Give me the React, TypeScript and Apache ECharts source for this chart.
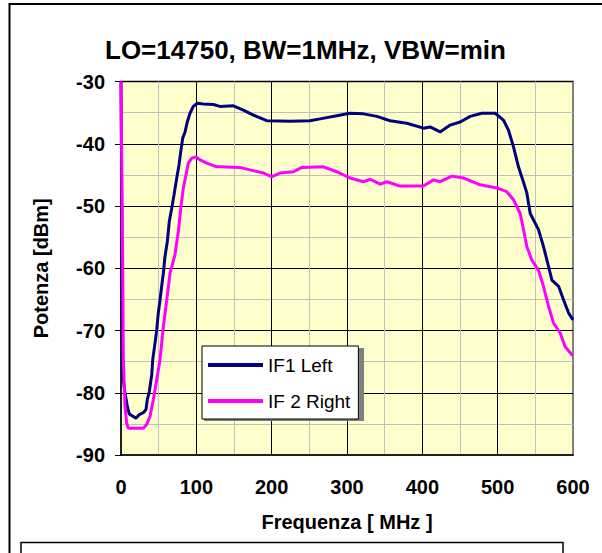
import React, { useEffect, useRef } from "react";
import * as echarts from "echarts";

const titleText = "LO=14750, BW=1MHz, VBW=min";
const xAxisName = "Frequenza [ MHz ]";
const yAxisName = "Potenza [dBm]";
const seriesNames = ["IF1 Left", "IF 2 Right"];

const if1Freq = [0, 2.2, 5.3, 8.4, 11, 16.3, 19.9, 24.3, 29.6, 33.2, 34.9, 37.6, 40.8, 42.1, 45.2, 47.4, 49.5, 51.8, 54, 56.2, 58.4, 61.5, 64.1, 67.3, 70.4, 74, 77, 79.3, 81.9, 85, 88, 91.6, 96, 101.3, 109.3, 122.6, 131.5, 149.1, 162.4, 175.7, 193.5, 224.4, 251, 264.3, 286.4, 304.1, 321.8, 339.6, 357.2, 379.4, 401.5, 410.4, 423.6, 436.9, 450.2, 463.5, 479, 496.7, 507.7, 514.3, 521, 527.6, 533.3, 538.7, 543.2, 554.2, 560.8, 567.5, 572, 580.9, 587.5, 594.2, 600];
const if1Power = [-30, -77.1, -80, -82.2, -83.4, -83.8, -84.1, -83.5, -83.2, -82.7, -81.1, -79.8, -77.1, -74.7, -72, -69.9, -67.2, -65.1, -62.9, -60.8, -58.1, -55.7, -52.5, -50.4, -48.2, -45.5, -43.4, -41.3, -39.1, -38.1, -36.5, -35.1, -34, -33.5, -33.6, -33.7, -34, -33.9, -34.6, -35.4, -36.3, -36.4, -36.3, -36, -35.5, -35.1, -35.2, -35.6, -36.3, -36.7, -37.5, -37.3, -38.1, -37, -36.5, -35.6, -35.1, -35.1, -36.2, -37.8, -40.5, -43.7, -45.8, -47.9, -51.2, -53.8, -56.5, -59.7, -61.9, -62.9, -65.1, -67.2, -68.3];

const if2Freq = [0, 2.2, 3.1, 5.3, 7.6, 9.7, 29.6, 34.1, 38.5, 42.9, 47.4, 51.8, 56.2, 60.7, 65.1, 67.3, 71.7, 76.1, 79.3, 82.7, 86.3, 89.4, 93.9, 99.6, 104.9, 113.8, 127.1, 131.5, 158, 171.3, 189, 200.1, 211.2, 228.8, 240, 268.7, 286.4, 304.1, 321.8, 330.7, 344, 352.9, 370.5, 401.5, 414.8, 423.6, 439.2, 454.6, 476.8, 498.9, 512.2, 521, 529.9, 534.3, 538.7, 545.4, 554.2, 560.8, 567.5, 574.1, 583, 589.6, 598.5, 600];
const if2Power = [-30, -58.6, -74.7, -82.2, -84.9, -85.7, -85.7, -85.1, -83.8, -81.1, -77.9, -74.7, -69.4, -65.1, -60.8, -59.8, -57.8, -54.1, -50.4, -47.1, -45, -43.1, -42.3, -42.1, -42.6, -43.1, -43.7, -43.7, -43.8, -44.2, -44.7, -45.3, -44.7, -44.5, -43.8, -43.7, -44.5, -45.5, -46.1, -45.7, -46.5, -46.1, -46.8, -46.8, -45.8, -46.1, -45.2, -45.5, -46.6, -47.1, -47.7, -49, -51.2, -53.8, -56.5, -58.7, -60.3, -62.9, -66.1, -68.8, -70.4, -72.6, -73.9, -74];

const FONT = 'Arial, "Liberation Sans", sans-serif';

export default function App() {
  const ref = useRef<HTMLDivElement>(null);
  useEffect(() => {
    if (!ref.current) return;
    const chart = echarts.init(ref.current, undefined, { renderer: "svg" });
    const pairs = (xs: number[], ys: number[]) => xs.map((x, i) => [x, ys[i]]);
    chart.setOption({
      animation: false,
      backgroundColor: "#ffffff",
      textStyle: { fontFamily: FONT },
      title: {
        text: titleText,
        left: 105,
        top: 37,
        padding: 0,
        textStyle: { fontSize: 26, fontWeight: "bold", color: "#000", fontFamily: FONT },
      },
      grid: {
        left: 121,
        right: 29,
        top: 81.5,
        bottom: 98,
        show: true,
        backgroundColor: "#FFFFCC",
        borderColor: "#808080",
        borderWidth: 2,
      },
      legend: {
        data: seriesNames,
        orient: "vertical",
        left: 202,
        top: 346,
        padding: [9, 8, 8, 6],
        itemGap: 16,
        itemWidth: 55,
        itemHeight: 4,
        icon: "rect",
        backgroundColor: "#ffffff",
        borderColor: "#000000",
        borderWidth: 1,
        z: 10,
        textStyle: { fontSize: 19, color: "#000", fontFamily: FONT, lineHeight: 20 },
      },
      graphic: [
        { type: "rect", z: 9, shape: { x: 204, y: 348, width: 160, height: 73 }, style: { fill: "#808080" } },
        { type: "line", shape: { x1: 9.5, y1: 4, x2: 610, y2: 4 }, style: { stroke: "#000", lineWidth: 2 } },
        { type: "line", shape: { x1: 9.5, y1: 3, x2: 9.5, y2: 560 }, style: { stroke: "#000", lineWidth: 2 } },
        { type: "polyline", shape: { points: [[21, 560], [21, 542.5], [563, 542.5], [563, 560]] }, style: { stroke: "#000", lineWidth: 1.5, fill: "none" } },
      ],
      xAxis: {
        type: "value",
        min: 0,
        max: 600,
        interval: 100,
        name: xAxisName,
        nameLocation: "middle",
        nameGap: 57,
        nameTextStyle: { fontSize: 20, fontWeight: "bold", color: "#000", fontFamily: FONT },
        axisLine: { show: true, onZero: false, lineStyle: { color: "#000", width: 1.5 } },
        axisTick: { show: false },
        axisLabel: { fontSize: 20, fontWeight: "bold", color: "#000", margin: 22, fontFamily: FONT },
        splitLine: { show: true, showMinLine: false, showMaxLine: false, lineStyle: { color: "#000", width: 1 } },
        minorTick: { show: false, splitNumber: 2 },
        minorSplitLine: { show: true, lineStyle: { color: "#C0C0C0", width: 1 } },
      },
      yAxis: {
        type: "value",
        min: -90,
        max: -30,
        interval: 10,
        name: yAxisName,
        nameLocation: "middle",
        nameGap: 70,
        nameTextStyle: { fontSize: 20, fontWeight: "bold", color: "#000", fontFamily: FONT },
        axisLine: { show: true, onZero: false, lineStyle: { color: "#000", width: 1.5 } },
        axisTick: { show: true, length: 6, lineStyle: { color: "#000", width: 1 } },
        axisLabel: { fontSize: 20, fontWeight: "bold", color: "#000", margin: 16, fontFamily: FONT },
        splitLine: { show: true, showMinLine: false, lineStyle: { color: "#000", width: 1 } },
        minorTick: { show: false, splitNumber: 2 },
        minorSplitLine: { show: true, lineStyle: { color: "#C0C0C0", width: 1 } },
      },
      series: [
        {
          name: seriesNames[0],
          type: "line",
          data: pairs(if1Freq, if1Power),
          showSymbol: false,
          symbol: "none",
          color: "#000080",
          lineStyle: { color: "#000080", width: 3 },
          z: 3,
        },
        {
          name: seriesNames[1],
          type: "line",
          data: pairs(if2Freq, if2Power),
          showSymbol: false,
          symbol: "none",
          color: "#FF00FF",
          lineStyle: { color: "#FF00FF", width: 3 },
          z: 4,
        },
      ],
    });
    return () => chart.dispose();
  }, []);
  return (
    <div
      ref={ref}
      style={{ position: "fixed", left: 0, top: 0, width: 602, height: 553 }}
    />
  );
}
